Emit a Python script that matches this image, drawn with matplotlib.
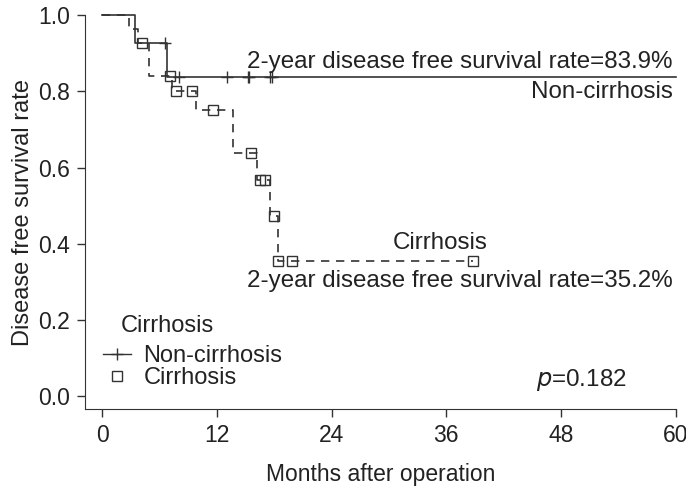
import matplotlib
matplotlib.use("Agg")
import matplotlib.pyplot as plt
from matplotlib.lines import Line2D

plt.rcParams['font.family'] = ['Liberation Sans', 'DejaVu Sans']

# Non-cirrhosis KM curve (step points) and censor marks
nc_t = [0, 3.45, 6.8, 60]
nc_s = [1.0, 0.926, 0.839, 0.839]
nc_cens_t = [6.6, 8.0, 13.1, 15.2, 15.4, 17.6, 17.8]
nc_cens_s = [0.926, 0.839, 0.839, 0.839, 0.839, 0.839, 0.839]

# Cirrhosis KM curve and censor marks
c_t = [0, 2.8, 3.7, 4.9, 7.3, 9.8, 13.7, 16.2, 17.6, 18.4, 38.8]
c_s = [1.0, 0.963, 0.926, 0.84, 0.80, 0.75, 0.638, 0.567, 0.472, 0.354, 0.354]
c_cens_t = [4.2, 7.1, 7.7, 9.4, 11.6, 15.6, 16.5, 17.0, 18.0, 18.4, 19.9, 38.8]
c_cens_s = [0.926, 0.84, 0.80, 0.80, 0.75, 0.638, 0.567, 0.567, 0.472, 0.354, 0.354, 0.354]

xticks = [0, 12, 24, 36, 48, 60]
yticks = [0.0, 0.2, 0.4, 0.6, 0.8, 1.0]

col = '#333333'
tcol = '#222222'
fs = 16.5
afs = 17.4

fig = plt.figure(figsize=(6.86, 4.9), dpi=100)
ax = fig.add_axes([0.124, 0.165, 0.861, 0.804])

ax.step(nc_t, nc_s, where='post', color=col, lw=1.2, clip_on=False)
ax.plot(nc_cens_t, nc_cens_s, ls='none', marker='+', ms=8, mew=1.0, color=col)
ax.step(c_t, c_s, where='post', color=col, lw=1.2, ls=(0, (5, 4)), clip_on=False)
ax.plot(c_cens_t, c_cens_s, ls='none', marker='s', ms=7, mew=1.0, mfc='none', mec=col)

ax.text(59.7, 0.877, '2-year disease free survival rate=83.9%', ha='right', va='center', fontsize=afs, color=tcol)
ax.text(59.7, 0.798, 'Non-cirrhosis', ha='right', va='center', fontsize=afs, color=tcol)
ax.text(35.4, 0.402, 'Cirrhosis', ha='center', va='center', fontsize=afs, color=tcol)
ax.text(59.7, 0.302, '2-year disease free survival rate=35.2%', ha='right', va='center', fontsize=afs, color=tcol)
ax.text(54.9, 0.042, r'$p$=0.182', ha='right', va='center', fontsize=afs, color=tcol)

# legend title drawn separately (it sits indented from the handles)
ax.text(1.9, 0.184, 'Cirrhosis', ha='left', va='center', fontsize=17, color=tcol)
handles = [Line2D([], [], color=col, lw=1.0, marker='+', ms=8),
           Line2D([], [], ls='none', marker='s', ms=7, mfc='none', mec=col)]
leg = ax.legend(handles, ['Non-cirrhosis', 'Cirrhosis'], loc='upper left',
                bbox_to_anchor=(0.015, 0.187), frameon=False, fontsize=17,
                handlelength=1.15, handletextpad=0.55, labelspacing=0.0,
                borderaxespad=0.0, borderpad=0.4)
for t in leg.get_texts():
    t.set_color(tcol)

ax.set_xlim(-1.8, 60)
ax.set_ylim(-0.034, 1.0)
ax.set_xticks(xticks)
ax.set_yticks(yticks)
ax.set_yticklabels(['%.1f' % v for v in yticks])
ax.tick_params(labelsize=fs, length=6, width=1, colors=col, labelcolor=tcol, pad=5)
for s in ['top', 'right']:
    ax.spines[s].set_visible(False)
for s in ['left', 'bottom']:
    ax.spines[s].set_color(col)
ax.set_xlabel('Months after operation', fontsize=fs, color=tcol, labelpad=11)
ax.set_ylabel('Disease free survival rate', fontsize=17, color=tcol, labelpad=3)

fig.savefig('out.png', dpi=100)
